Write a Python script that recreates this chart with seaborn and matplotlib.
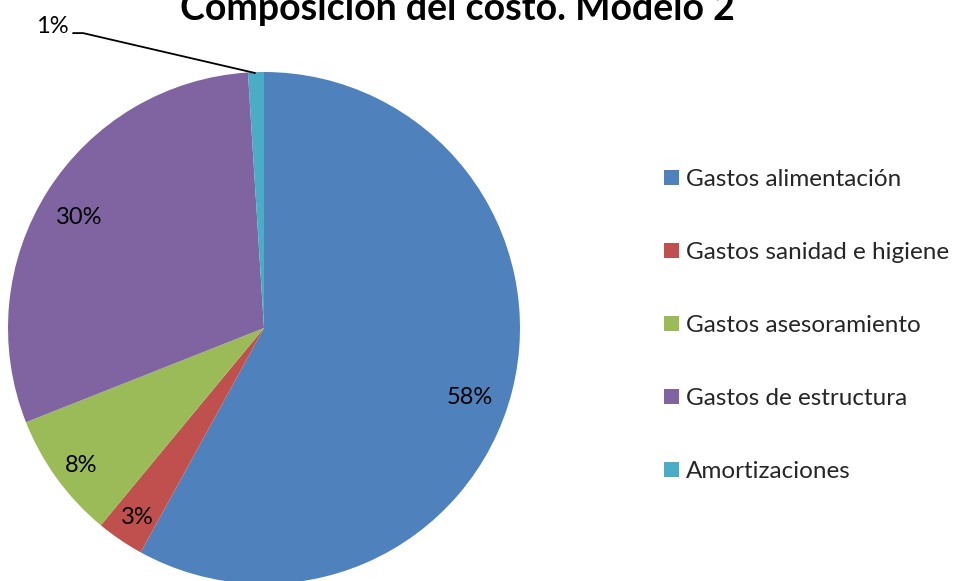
import matplotlib
matplotlib.use("Agg")
import matplotlib.pyplot as plt
import seaborn as sns
import numpy as np
from matplotlib.patches import Patch

sns.set_theme(style="white")
plt.rcParams['font.family'] = ['Lato', 'DejaVu Sans']

categories = ["Gastos alimentación", "Gastos sanidad e higiene", "Gastos asesoramiento",
              "Gastos de estructura", "Amortizaciones"]
values = [58, 3, 8, 30, 1]
pct_labels = ["58%", "3%", "8%", "30%", "1%"]
colors = ["#4F81BD", "#C0504D", "#9BBB59", "#8064A2", "#4BACC6"]
title = "Composición del costo. Modelo 2"

W, H = 957, 581
fig = plt.figure(figsize=(W / 100, H / 100), dpi=100)
cx, cy, r = 264, 328, 256
ax = fig.add_axes([(cx - r) / W, (H - (cy + r)) / H, 2 * r / W, 2 * r / H])
ax.pie(values, colors=sns.color_palette(colors), startangle=90, counterclock=False,
       radius=1, wedgeprops=dict(linewidth=0))
ax.set_xlim(-1, 1)
ax.set_ylim(-1, 1)
ax.set_aspect('auto')
ax.axis('off')
for p in ax.patches:
    p.set_clip_on(False)

# label positions (relative to pie radius)
label_pos = [(0.805, -0.262), (-0.496, -0.734), (-0.715, -0.531), (-0.723, 0.4375), (-0.828, 1.184)]
for txt, (x, y) in zip(pct_labels, label_pos):
    ax.text(x, y, txt, ha='center', va='center_baseline', fontsize=17, color='black', clip_on=False)

# leader line for the small slice
ax.plot([-0.746, -0.707, -0.035], [1.152, 1.152, 0.996], color='black', lw=1.3, clip_on=False)

fig.text(457 / W, 1 - 20.5 / H, title, ha='center', va='baseline', fontsize=27,
         fontweight='bold', color='black')

handles = [Patch(facecolor=c, edgecolor='none') for c in colors]
fig.legend(handles, categories, loc='center left', bbox_to_anchor=(664 / W, 1 - 325.5 / H),
           frameon=False, fontsize=17.5, handlelength=0.62, handleheight=0.62,
           handletextpad=0.3, labelspacing=2.14, borderaxespad=0, borderpad=0)

fig.savefig("out.png", dpi=100)
